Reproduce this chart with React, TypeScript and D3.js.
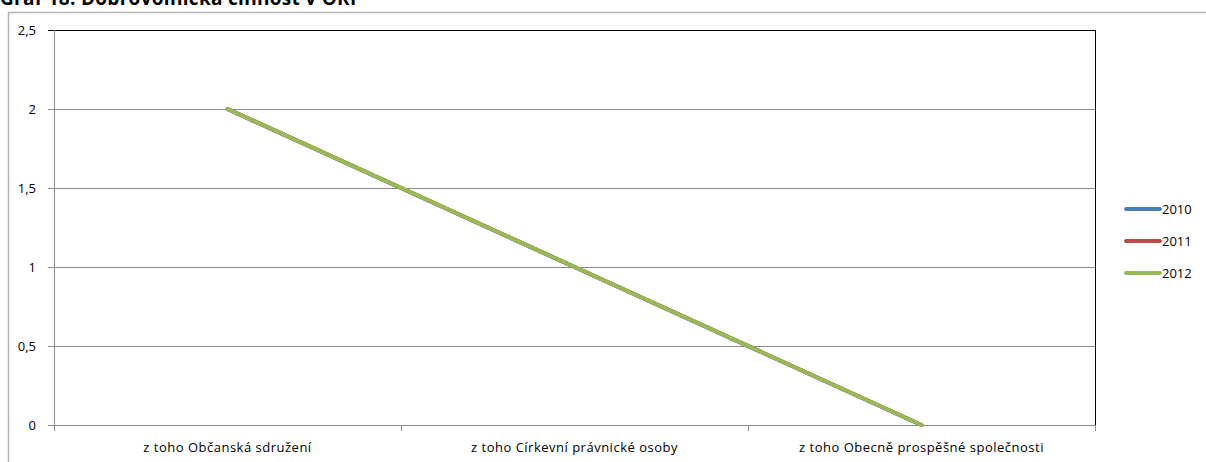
import React from "react";
import * as d3 from "d3";

const title = "Graf 18: Dobrovolnická činnost v ORP";
const categories = [
  "z toho Občanská sdružení",
  "z toho Církevní právnické osoby",
  "z toho Obecně prospěšné společnosti",
];
const seriesNames = ["2010", "2011", "2012"];
const values2010 = [2, 1, 0];
const values2011 = [2, 1, 0];
const values2012 = [2, 1, 0];
const seriesColors = ["#4A7EBB", "#BE4B48", "#98B954"];
const yTicks = [0, 0.5, 1, 1.5, 2, 2.5];

export default function App() {
  const W = 1206;
  const H = 462;
  const left = 54, right = 1095, top = 30, bottom = 425;
  const x = d3.scaleBand<string>().domain(categories).range([left, right]);
  const y = d3.scaleLinear().domain([0, 2.5]).range([bottom, top]);
  const series = [values2010, values2011, values2012];
  const line = d3
    .line<number>()
    .x((_, i) => (x(categories[i]) as number) + x.bandwidth() / 2)
    .y((d) => y(d));
  const fmt = (v: number) => String(v).replace(".", ",");
  const font = "'Open Sans', sans-serif";
  return (
    <svg
      width={W}
      height={H}
      style={{ position: "absolute", left: 0, top: 0, display: "block", background: "#fff" }}
      fontFamily={font}
    >
      <rect x={0} y={0} width={W} height={H} fill="#fff" />
      <text x={0} y={5} fontSize={19} fontWeight="bold" fill="#000" letterSpacing={0.3}>
        {title}
      </text>
      {/* outer chart border */}
      <path d={`M8.5,${H} V12.5 H${W}`} fill="none" stroke="#b3b3b3" strokeWidth={1.5} />
      {/* gridlines */}
      {yTicks.map((t) => (
        <line
          key={t}
          x1={left - 6}
          x2={right}
          y1={Math.round(y(t)) + 0.5}
          y2={Math.round(y(t)) + 0.5}
          stroke={t === 2.5 ? "#000" : "#8c8c8c"}
        />
      ))}
      {/* plot right border */}
      <line x1={right + 0.5} x2={right + 0.5} y1={top} y2={bottom} stroke="#000" />
      {/* y axis */}
      <line x1={left + 0.5} x2={left + 0.5} y1={top} y2={bottom + 6} stroke="#8c8c8c" />
      {yTicks.map((t) => (
        <text
          key={"l" + t}
          x={36}
          y={y(t)}
          dy="0.35em"
          textAnchor="end"
          fontSize={13}
          fill="#000"
        >
          {fmt(t)}
        </text>
      ))}
      {/* x ticks */}
      {categories.map((c) => (
        <line
          key={"xt" + c}
          x1={Math.round((x(c) as number) + x.bandwidth()) + 0.5}
          x2={Math.round((x(c) as number) + x.bandwidth()) + 0.5}
          y1={bottom}
          y2={bottom + 6}
          stroke="#8c8c8c"
        />
      ))}
      {categories.map((c) => (
        <text
          key={"xl" + c}
          x={(x(c) as number) + x.bandwidth() / 2}
          y={447}
          dy="0.35em"
          textAnchor="middle"
          fontSize={13}
          letterSpacing={0.5}
          fill="#000"
        >
          {c}
        </text>
      ))}
      {/* series */}
      {series.map((s, i) => (
        <path
          key={seriesNames[i]}
          d={line(s) || ""}
          fill="none"
          stroke={seriesColors[i]}
          strokeWidth={4}
          strokeLinecap="round"
        />
      ))}
      {/* legend */}
      {seriesNames.map((n, i) => (
        <g key={"lg" + n} transform={`translate(0, ${209 + i * 32})`}>
          <line x1={1126} x2={1160} y1={0} y2={0} stroke={seriesColors[i]} strokeWidth={4} strokeLinecap="round" />
          <text x={1162} y={0} dy="0.35em" fontSize={13} fill="#000">
            {n}
          </text>
        </g>
      ))}
    </svg>
  );
}
